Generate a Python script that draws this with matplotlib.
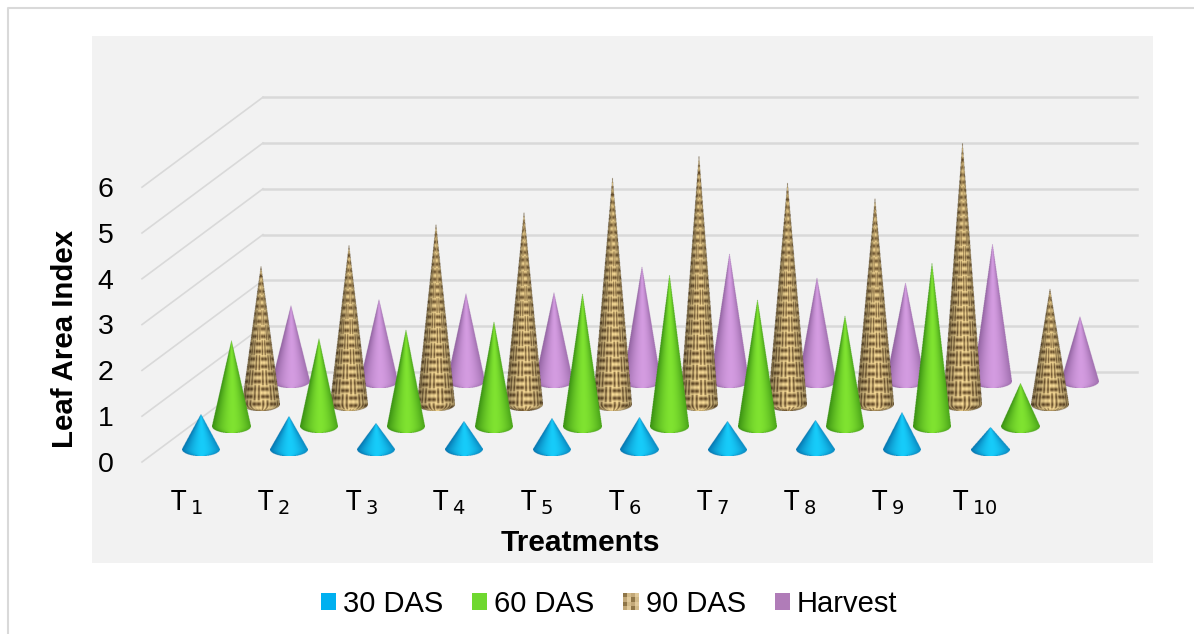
import matplotlib
matplotlib.use('Agg')
import matplotlib.pyplot as plt
import numpy as np
from matplotlib.legend_handler import HandlerBase
from matplotlib.patches import Patch, Rectangle

plt.rcParams['font.family'] = ['Liberation Sans', 'DejaVu Sans']
plt.rcParams['mathtext.fontset'] = 'custom'
plt.rcParams['mathtext.rm'] = 'Noto Sans'
plt.rcParams['mathtext.sf'] = 'DejaVu Sans'

treatments = ['T1', 'T2', 'T3', 'T4', 'T5', 'T6', 'T7', 'T8', 'T9', 'T10']
das_30 = [0.76, 0.72, 0.55, 0.59, 0.66, 0.68, 0.61, 0.63, 0.79, 0.48]
das_60 = [1.86, 1.90, 2.10, 2.29, 2.90, 3.30, 2.77, 2.42, 3.56, 0.92]
das_90 = [3.03, 3.49, 3.95, 4.21, 4.96, 5.44, 4.85, 4.50, 5.74, 2.53]
harvest = [1.64, 1.79, 1.90, 1.94, 2.51, 2.79, 2.27, 2.16, 3.01, 1.40]
series_names = ['30 DAS', '60 DAS', '90 DAS', 'Harvest']
yticks = [0, 1, 2, 3, 4, 5, 6]

W, H = 1194, 634
PX_X = 87.67  # pixels per category
PX_Y = 45.8   # pixels per unit of LAI
X0, Y0 = 201, 462  # pixel of T1, value 0

# depth row of each series, in axis units
depth_x = [0, 0.342, 0.685, 1.027]
depth_y = [0.28, 0.78, 1.27, 1.76]
edge_cols = [(0.02, 0.45, 0.68), (0.22, 0.56, 0.07), None, (0.56, 0.38, 0.62)]
mid_cols = [(0.09, 0.80, 0.98), (0.50, 0.89, 0.19), None, (0.83, 0.61, 0.88)]
RX_PX = 19
RY_PX = 7
SS = 3  # supersampling of the cone images


def weave(row_px, angle):
    # basket weave wrapped round the cone, so columns close up at the tip
    s = angle * 4.2
    r = row_px / 7.5
    cell = (np.floor(s / 2) + np.floor(r / 2)) % 2
    horiz = np.cos(2 * np.pi * r)
    vert = np.cos(2 * np.pi * s)
    v = 0.5 + 0.5 * np.where(cell == 0, 0.8 * horiz + 0.2 * vert, 0.8 * vert + 0.2 * horiz)
    v = np.clip(v, 0, 1) ** 0.7
    dark = np.array([0.33, 0.23, 0.11])
    light = np.array([0.98, 0.87, 0.60])
    return dark + (light - dark) * v[..., None]


def cone(ax, x, base, value, k, z):
    rx = RX_PX / PX_X
    ry = RY_PX / PX_Y
    tip = base + value
    h_px = value * PX_Y
    nrows = int((h_px + RY_PX) * SS)
    ncols = int(2 * RX_PX * SS)
    row_px = (np.arange(nrows) + 0.5) / SS  # from the tip downward
    col_px = (np.arange(ncols) + 0.5) / SS - RX_PX
    xx, yy = np.meshgrid(col_px, row_px)

    # half width of the cone on each row, then the elliptical foot
    half = np.minimum(yy / h_px, 1.0) * RX_PX
    below = yy > h_px
    foot = RX_PX * np.sqrt(np.clip(1 - ((yy - h_px) / RY_PX) ** 2, 0, 1))
    half = np.where(below, foot, half)
    inside = np.abs(xx) <= half
    u = np.clip(xx / np.maximum(half, 0.01), -1, 1)

    # shading across the cone: dark at both rims, bright just right of centre
    shade = np.clip(1 - np.abs((u - 0.08) / 1.08) ** 1.7, 0, 1)
    if edge_cols[k] is None:
        rgb = weave(yy, np.arcsin(u)) * (0.60 + 0.42 * shade)[..., None]
    else:
        lo, hi = np.array(edge_cols[k]), np.array(mid_cols[k])
        rgb = lo + (hi - lo) * shade[..., None]
    img = np.dstack([np.clip(rgb, 0, 1), inside.astype(float)])
    ax.imshow(img, extent=[x - rx, x + rx, base - ry, tip], origin='upper', aspect='auto',
              interpolation='hanning', interpolation_stage='rgba', zorder=z)


fig = plt.figure(figsize=(W / 100, H / 100), dpi=100, facecolor='white')
fig.add_artist(Rectangle((92 / W, 1 - 563 / H), (1153 - 92) / W, (563 - 36) / H,
                         transform=fig.transFigure, fc='#f2f2f2', ec='none', zorder=-5))
fig.add_artist(plt.Line2D([8 / W, 8 / W, 1], [0, 1 - 8 / H, 1 - 8 / H],
                          color='#d9d9d9', lw=1.5, zorder=-6))

ax = fig.add_axes([0, 0, 1, 1])
ax.axis('off')
xlim = (-X0 / PX_X, (W - X0) / PX_X)
ylim = ((Y0 - H) / PX_Y, Y0 / PX_Y)

# floor/wall gridlines
for v in yticks:
    ax.plot([-0.673, 0.707], [v, v + 1.965], color='#d9d9d9', lw=1.2, zorder=1)
    ax.plot([0.707, 10.68], [v + 1.965, v + 1.965], color='#d9d9d9', lw=1.8, zorder=1)
    ax.text(-1.0, v - 0.06, str(v), ha='right', va='center', fontsize=20.5, color='black')

data = [das_30, das_60, das_90, harvest]
z = 2
for k in [3, 2, 1, 0]:
    for i, val in enumerate(data[k]):
        cone(ax, i + depth_x[k], depth_y[k], val, k, z)
        z += 1

for i, t in enumerate(treatments):
    ax.text(i - 0.17, -0.89, r'$\mathrm{T}\,_{\mathsf{%s}}$' % t[1:], ha='center', va='center', fontsize=20)

ax.text(4.325, -1.76, 'Treatments', ha='center', va='center', fontsize=21.5, fontweight='bold')
ax.text(-1.55, 2.68, 'Leaf Area Index', rotation=90, ha='center', va='center', fontsize=21.2,
        fontweight='bold')
ax.set_xlim(xlim)
ax.set_ylim(ylim)


class WeaveHandler(HandlerBase):
    def create_artists(self, legend, orig_handle, xd, yd, width, height, fontsize, trans):
        cols = ['#c2a878', '#e0c99a', '#8f7648', '#d3bb8a']
        out = []
        n = 4
        for r in range(n):
            for c in range(n):
                out.append(Rectangle((-xd + c * width / n, -yd + r * height / n), width / n, height / n,
                                     fc=cols[(r * 2 + c) % 4], ec='none', transform=trans))
        return out


handles = [Patch(fc='#00b0f0'), Patch(fc='#6fd82f'), Patch(fc='#c2a878'), Patch(fc='#b07cb8')]
leg = ax.legend(handles, series_names, loc='center', bbox_to_anchor=(609 / W, 1 - 604 / H), ncol=4,
                frameon=False, fontsize=21, handlelength=0.52, handleheight=0.52, handletextpad=0.24,
                columnspacing=0.99, borderpad=0, borderaxespad=0,
                handler_map={handles[2]: WeaveHandler()})

fig.savefig('out.png', dpi=100)
